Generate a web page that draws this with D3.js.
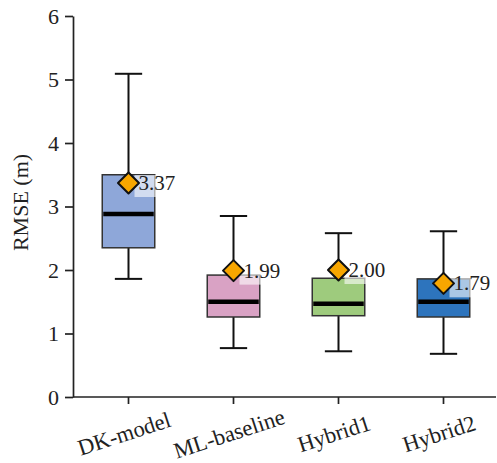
<!DOCTYPE html>
<html><head><meta charset="utf-8">
<script src="https://cdn.jsdelivr.net/npm/d3@7"></script>
<style>body{margin:0;background:#fff;} svg{display:block;}</style>
</head><body>
<svg id="chart" width="497" height="463"></svg>
<script>
const categories = ["DK-model", "ML-baseline", "Hybrid1", "Hybrid2"];
const whiskerMin = [1.86, 0.77, 0.72, 0.68];
const q1Values   = [2.35, 1.26, 1.28, 1.26];
const medians    = [2.88, 1.50, 1.47, 1.50];
const q3Values   = [3.50, 1.92, 1.87, 1.86];
const whiskerMax = [5.09, 2.85, 2.58, 2.61];
const means      = [3.37, 1.99, 2.00, 1.79];
const meanLabels = ["3.37", "1.99", "2.00", "1.79"];
const boxColors  = ["#8ea7d9", "#d9a2c4", "#9ecb7d", "#2d74bd"];
const yTicks     = [0, 1, 2, 3, 4, 5, 6];

const svg = d3.select("#chart");
const font = "'Liberation Serif', 'Times New Roman', serif";
const axisX = 73;

const x = d3.scaleBand().domain(categories).range([76, 496]);
const y = d3.scaleLinear().domain([0, 6]).range([397, 16]);

// Y axis
const gy = svg.append("g").attr("transform", `translate(${axisX},0)`)
  .call(d3.axisLeft(y).tickValues(yTicks).tickFormat(d3.format("d")).tickSize(8).tickSizeOuter(0).tickPadding(6));
gy.selectAll("path.domain").attr("stroke", "#222").attr("stroke-width", 1.7);
gy.selectAll(".tick line").attr("stroke", "#222").attr("stroke-width", 1.7);
gy.selectAll(".tick text").attr("font-family", font).attr("font-size", 22).attr("fill", "#222");

// X axis
const gx = svg.append("g").attr("transform", `translate(0,${y(0)})`)
  .call(d3.axisBottom(x).tickSize(7).tickSizeOuter(0).tickFormat(""));
gx.select("path.domain").remove();
gx.selectAll(".tick line").attr("stroke", "#222").attr("stroke-width", 1.7);
svg.append("line").attr("x1", axisX).attr("x2", x.range()[1]).attr("y1", y(0)).attr("y2", y(0))
  .attr("stroke", "#222").attr("stroke-width", 1.7);

// X labels (rotated)
svg.append("g").selectAll("text").data(categories).join("text")
  .attr("transform", d => `translate(${x(d) + x.bandwidth() / 2 - 2},${y(0) + 44}) rotate(-18)`)
  .attr("text-anchor", "middle")
  .attr("font-family", font).attr("font-size", 22.5).attr("fill", "#222")
  .text(d => d);

// Y title
svg.append("text")
  .attr("transform", `translate(28,${y(3) - 4}) rotate(-90)`)
  .attr("text-anchor", "middle")
  .attr("font-family", font).attr("font-size", 22).attr("fill", "#222")
  .text("RMSE (m)");

const bw = x.bandwidth() * 0.5;
const capW = x.bandwidth() * 0.26;
const g = svg.append("g");

categories.forEach((c, i) => {
  const cx = x(c) + x.bandwidth() / 2;
  const grp = g.append("g");
  // whiskers
  grp.append("line").attr("x1", cx).attr("x2", cx).attr("y1", y(whiskerMax[i])).attr("y2", y(q3Values[i]))
    .attr("stroke", "#111").attr("stroke-width", 2);
  grp.append("line").attr("x1", cx).attr("x2", cx).attr("y1", y(q1Values[i])).attr("y2", y(whiskerMin[i]))
    .attr("stroke", "#111").attr("stroke-width", 2);
  grp.append("line").attr("x1", cx - capW / 2).attr("x2", cx + capW / 2).attr("y1", y(whiskerMax[i])).attr("y2", y(whiskerMax[i]))
    .attr("stroke", "#111").attr("stroke-width", 2);
  grp.append("line").attr("x1", cx - capW / 2).attr("x2", cx + capW / 2).attr("y1", y(whiskerMin[i])).attr("y2", y(whiskerMin[i]))
    .attr("stroke", "#111").attr("stroke-width", 2);
  // box
  grp.append("rect").attr("x", cx - bw / 2).attr("width", bw)
    .attr("y", y(q3Values[i])).attr("height", y(q1Values[i]) - y(q3Values[i]))
    .attr("fill", boxColors[i]).attr("stroke", "#333").attr("stroke-width", 1.5);
  // median
  grp.append("line").attr("x1", cx - bw / 2 + 1).attr("x2", cx + bw / 2 - 1).attr("y1", y(medians[i])).attr("y2", y(medians[i]))
    .attr("stroke", "#000").attr("stroke-width", 4.5);
  // label background
  const my = y(means[i]);
  grp.append("rect").attr("x", cx + 6).attr("y", my - 8).attr("width", 42).attr("height", 22)
    .attr("fill", "#fff").attr("opacity", 0.6);
  // diamond
  const h = 10.5;
  grp.append("path")
    .attr("d", `M${cx},${my - h}L${cx + h},${my}L${cx},${my + h}L${cx - h},${my}Z`)
    .attr("fill", "#f7a600").attr("stroke", "#111").attr("stroke-width", 2).attr("stroke-linejoin", "round");
  // label
  grp.append("text").attr("x", cx + 10).attr("y", my + 7)
    .attr("font-family", font).attr("font-size", 21).attr("fill", "#222")
    .text(meanLabels[i]);
});
</script>
</body></html>
